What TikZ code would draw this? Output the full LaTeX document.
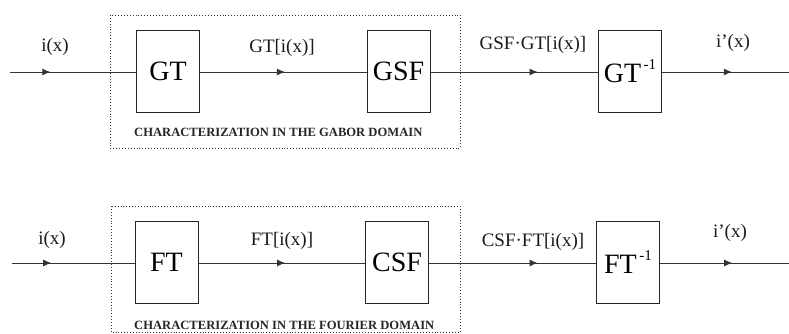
\documentclass[tikz,border=0pt]{standalone}
\usepackage{fontspec}
\setmainfont{Liberation Serif}
\usetikzlibrary{decorations.markings,arrows.meta}
\begin{document}
\begin{tikzpicture}[x=1pt,y=-1pt,
  blk/.style={draw=black!85,line width=0.9pt,minimum width=63pt,minimum height=82pt,inner sep=0pt,font=\fontsize{28}{30}\selectfont},
  lbl/.style={font=\fontsize{19}{21}\selectfont,inner sep=0pt,text=black!90},
  captext/.style={font=\fontsize{12.6}{14}\selectfont\bfseries,inner sep=0pt,anchor=west,text=black!85},
  wire/.style={draw=black!80,line width=0.9pt},
  midarrow/.style={postaction={decorate,decoration={markings,mark=at position #1 with {\arrow{Latex[length=8pt,width=7pt]}}}}},
  domainbox/.style={draw=black!80,dotted,line width=0.9pt}]
\useasboundingbox (0,0) rectangle (789,334);
% ---- top row
\draw[domainbox] (110,15) rectangle (460,148);
\coordinate (in1) at (10,72);
\coordinate (out1) at (789,72);
\node[blk] (gt) at (168,71) {GT};
\node[blk] (gsf) at (398.5,71) {GSF};
\node[blk] (gti) at (630,71) {GT\raisebox{0.45em}{\fontsize{15}{16}\selectfont\,-1}};
\draw[wire,midarrow=0.32] (in1) -- (gt.west|-in1);
\draw[wire,midarrow=0.51] (gt.east|-in1) -- (gsf.west|-in1);
\draw[wire,midarrow=0.64] (gsf.east|-in1) -- (gti.west|-in1);
\draw[wire,midarrow=0.55] (gti.east|-in1) -- (out1);
\node[lbl] (l1) at (55,47) {i(x)};
\node[lbl] (l2) at (282,48) {GT[i(x)]};
\node[lbl] (l3) at (533,45) {GSF·GT[i(x)]};
\node[lbl] (l4) at (733,43) {i’(x)};
\node[captext] (c1) at (134,132) {CHARACTERIZATION IN THE GABOR DOMAIN};
% ---- bottom row
\draw[domainbox] (111,206) rectangle (460,332);
\coordinate (in2) at (12,263);
\coordinate (out2) at (789,263);
\node[blk] (ft) at (166.5,262) {FT};
\node[blk] (csf) at (397,262) {CSF};
\node[blk] (fti) at (628,262) {FT\raisebox{0.45em}{\fontsize{15}{16}\selectfont\,-1}};
\draw[wire,midarrow=0.32] (in2) -- (ft.west|-in2);
\draw[wire,midarrow=0.52] (ft.east|-in2) -- (csf.west|-in2);
\draw[wire,midarrow=0.65] (csf.east|-in2) -- (fti.west|-in2);
\draw[wire,midarrow=0.56] (fti.east|-in2) -- (out2);
\node[lbl] (m1) at (52,240) {i(x)};
\node[lbl] (m2) at (282,241) {FT[i(x)]};
\node[lbl] (m3) at (533,242) {CSF·FT[i(x)]};
\node[lbl] (m4) at (730,233) {i’(x)};
\node[captext] (c2) at (134,325) {CHARACTERIZATION IN THE FOURIER DOMAIN};
\end{tikzpicture}
\end{document}
